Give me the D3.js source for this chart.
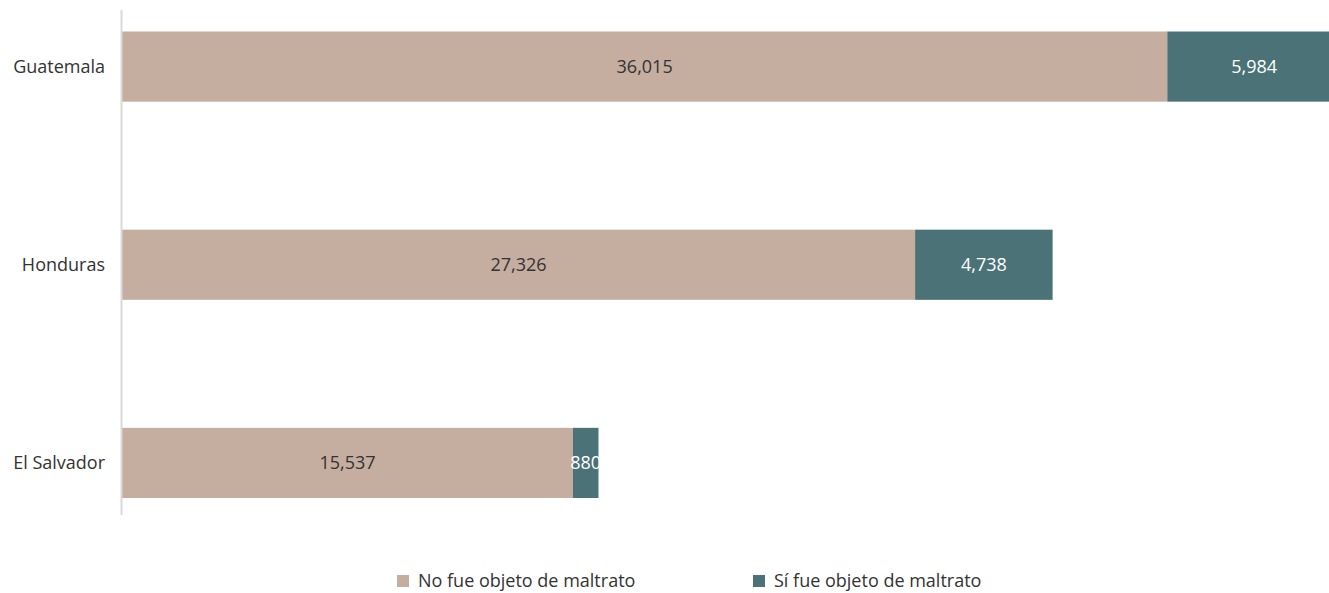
<!DOCTYPE html>
<html>
<head>
<meta charset="utf-8">
<script src="https://cdn.jsdelivr.net/npm/d3@7"></script>
<style>
  body { margin: 0; background: #fff; }
  text { font-family: "Open Sans", sans-serif; }
</style>
</head>
<body>
<div id="chart-area"></div>
<script>
let countries = ["Guatemala", "Honduras", "El Salvador"];
let noMaltrato = [36015, 27326, 15537];
let siMaltrato = [5984, 4738, 880];
let seriesNames = ["No fue objeto de maltrato", "Sí fue objeto de maltrato"];
let colors = ["#c5ada0", "#4a7277"];
let labelColors = ["#333333", "#ffffff"];

let width = 1329;
let height = 593;

let svg = d3.select("#chart-area")
            .append("svg")
            .attr("width", width)
            .attr("height", height);

let x = d3.scaleLinear()
          .domain([0, 42000])
          .range([122, 1341]);

let y = d3.scaleBand()
          .domain(countries)
          .range([-32.5, 562])
          .paddingInner(0.646)
          .paddingOuter(0.323);

let rows = countries.map(function(c, i){
    return { country: c, no: noMaltrato[i], si: siMaltrato[i] };
});

let stack = d3.stack().keys(["no", "si"]);
let layers = stack(rows);

let layer = svg.selectAll(".layer")
               .data(layers)
               .enter()
               .append("g")
               .attr("fill", function(d, i){ return colors[i]; });

layer.selectAll("rect")
     .data(function(d){ return d; })
     .enter()
     .append("rect")
     .attr("x", function(d){ return x(d[0]); })
     .attr("width", function(d){ return x(d[1]) - x(d[0]); })
     .attr("y", function(d){ return y(d.data.country); })
     .attr("height", y.bandwidth());

layers.forEach(function(l, i){
    svg.append("g")
       .selectAll("text")
       .data(l)
       .enter()
       .append("text")
       .attr("x", function(d){ return (x(d[0]) + x(d[1])) / 2; })
       .attr("y", function(d){ return y(d.data.country) + y.bandwidth() / 2; })
       .attr("dy", "0.35em")
       .attr("text-anchor", "middle")
       .attr("font-size", 18)
       .attr("fill", labelColors[i])
       .text(function(d){ return d3.format(",")(d[1] - d[0]); });
});

// vertical axis line
svg.append("line")
   .attr("x1", 121.5).attr("x2", 121.5)
   .attr("y1", 10).attr("y2", 515)
   .attr("stroke", "#d9d9d9")
   .attr("stroke-width", 2);

svg.append("g")
   .selectAll("text")
   .data(countries)
   .enter()
   .append("text")
   .attr("x", 105)
   .attr("y", function(d){ return y(d) + y.bandwidth() / 2; })
   .attr("dy", "0.35em")
   .attr("text-anchor", "end")
   .attr("font-size", 18)
   .attr("fill", "#333333")
   .text(function(d){ return d; });

// legend
let legendX = [397, 753];
let legend = svg.selectAll(".legend")
                .data(seriesNames)
                .enter()
                .append("g")
                .attr("transform", function(d, i){
                    return "translate(" + legendX[i] + ",575)";
                });

legend.append("rect")
      .attr("width", 12)
      .attr("height", 12)
      .attr("fill", function(d, i){ return colors[i]; });

legend.append("text")
      .attr("x", 21)
      .attr("y", 6)
      .attr("dy", "0.35em")
      .attr("font-size", 18)
      .attr("fill", "#333333")
      .text(function(d){ return d; });
</script>
</body>
</html>
